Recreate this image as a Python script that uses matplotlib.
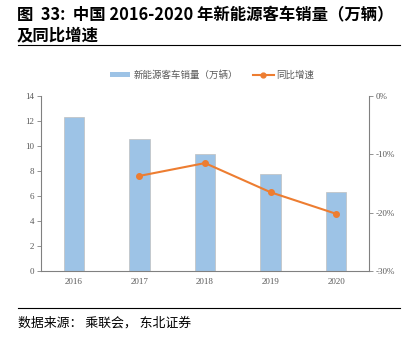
import matplotlib
matplotlib.use("Agg")
import matplotlib.pyplot as plt
from matplotlib.lines import Line2D
from matplotlib.patches import Patch
import numpy as np

plt.rcParams['font.family'] = ['Noto Sans CJK SC', 'DejaVu Sans']

years = ['2016', '2017', '2018', '2019', '2020']
sales = [12.3, 10.6, 9.4, 7.8, 6.3]          # 万辆
growth_years = ['2017', '2018', '2019', '2020']
growth = [-13.7, -11.5, -16.5, -20.2]         # %

bar_color = '#9DC3E6'
line_color = '#ED7D31'
grey = '#595959'
serif = ['Liberation Serif', 'DejaVu Serif']

fig = plt.figure(figsize=(4.12, 3.42), dpi=100)

# title + rules
fig.text(17/412, 1-15/342, '图  33:  中国 2016-2020 年新能源客车销量（万辆）',
         fontsize=11.8, fontweight='bold', va='center', ha='left')
fig.text(17/412, 1-35/342, '及同比增速', fontsize=11.8, fontweight='bold',
         va='center', ha='left')
fig.add_artist(Line2D([18/412, 400/412], [1-45/342, 1-45/342], color='black', lw=0.8))
fig.add_artist(Line2D([18/412, 400/412], [1-307.5/342, 1-307.5/342], color='black', lw=0.8))
fig.text(18/412, 1-323/342, '数据来源： 乘联会， 东北证券', fontsize=9.3,
         va='center', ha='left')

ax = fig.add_axes([41/412, 1-271/342, 328/412, 175/342])
x = np.arange(len(years))
ax.bar(x, sales, width=0.31, color=bar_color, edgecolor='#BFBFBF', linewidth=0.5, zorder=2)
ax.set_xlim(-0.5, len(years)-0.5)
ax.set_ylim(0, 14)
ax.set_yticks(range(0, 15, 2))
ax.set_xticks(x)
ax.set_xticklabels(years)
for s in ['top', 'right']:
    ax.spines[s].set_visible(False)
for s in ['left', 'bottom']:
    ax.spines[s].set_color('#808080')
    ax.spines[s].set_linewidth(0.8)
ax.tick_params(axis='y', length=3, width=0.6, color='#808080', labelsize=6.5,
               labelcolor=grey, pad=2)
ax.tick_params(axis='x', length=0, labelsize=6.5, labelcolor=grey, pad=5)
for lab in ax.get_xticklabels() + ax.get_yticklabels():
    lab.set_family(serif)

ax2 = ax.twinx()
gx = [years.index(y) for y in growth_years]
ax2.plot(gx, growth, color=line_color, lw=1.5, marker='o', ms=4, zorder=3)
ax2.set_ylim(-30, 0)
ax2.set_yticks([-30, -20, -10, 0])
ax2.set_yticklabels(['-30%', '-20%', '-10%', '0%'])
for s in ['top', 'left', 'bottom']:
    ax2.spines[s].set_visible(False)
ax2.spines['right'].set_color('#808080')
ax2.spines['right'].set_linewidth(0.8)
ax2.tick_params(axis='y', length=3, width=0.6, color='#808080', labelsize=6.5,
                labelcolor=grey, pad=2)
for lab in ax2.get_yticklabels():
    lab.set_family(serif)

handles = [Patch(facecolor=bar_color, edgecolor='none'),
           Line2D([0], [0], color=line_color, lw=1.5, marker='o', ms=3.5)]
fig.legend(handles, ['新能源客车销量（万辆）', '同比增速'], loc='center',
           bbox_to_anchor=(212/412, 1-75/342), ncol=2, frameon=False,
           fontsize=6.8, labelcolor=grey, handlelength=2.2, handleheight=0.5,
           columnspacing=1.6, handletextpad=0.3)

fig.savefig('out.png', dpi=100)
